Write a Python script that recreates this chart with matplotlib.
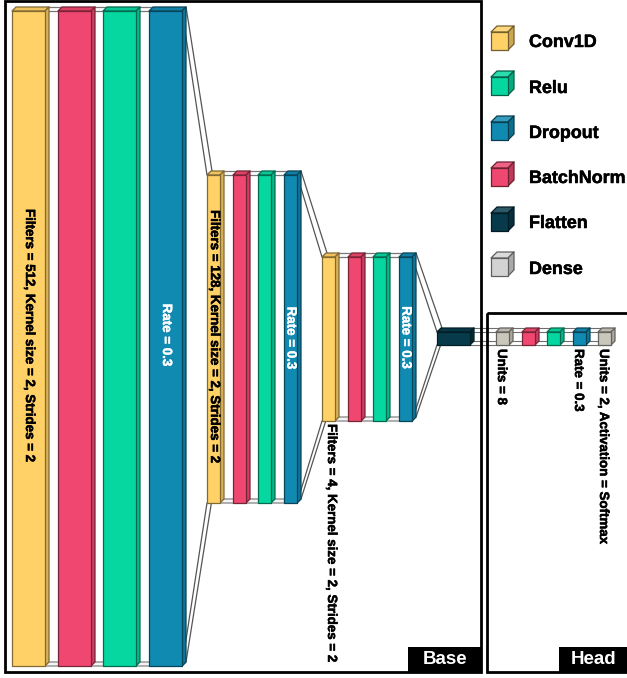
"""Layered view of a 1D conv network: base blocks, head and a layer-type legend."""

import matplotlib

matplotlib.use("Agg")
import matplotlib.patheffects as pe
import matplotlib.pyplot as plt
from matplotlib.colors import to_rgb
from matplotlib.patches import Polygon, Rectangle

plt.rcParams["font.family"] = ["Liberation Sans", "DejaVu Sans"]

# --- Data ---------------------------------------------------------------------
LEGEND_NAMES = ["Conv1D", "Relu", "Dropout", "BatchNorm", "Flatten", "Dense"]
BLOCK_KINDS = ["Conv1D", "BatchNorm", "Relu", "Dropout"]
HEAD_KINDS = ["Dense", "BatchNorm", "Relu", "Dropout", "Dense"]
SECTION_NAMES = ["Base", "Head"]

CONV_LABELS = [
    "Filters = 512, Kernel size = 2, Strides = 2",
    "Filters = 128, Kernel size = 2, Strides = 2",
    "Filters = 4, Kernel size = 2, Strides = 2",
]
DROPOUT_LABEL = "Rate = 0.3"
HEAD_LABELS = ["Units = 8", None, None, "Rate = 0.3", "Units = 2, Activation = Softmax"]

# --- Styles and geometry (pixels) ---------------------------------------------
COLORS = {
    "Conv1D": "#FFD166",
    "Relu": "#06D6A0",
    "Dropout": "#118AB2",
    "BatchNorm": "#EF476F",
    "Flatten": "#073B4C",
    "Dense": "#D3D3D3",
}
HEAD_DENSE_COLOR = "#C9C6BC"
DEPTH = 4

BLOCK_LEFTS = [[12, 58, 103, 149], [207, 233, 258, 284], [322, 348, 373, 399]]
BLOCK_WIDTHS = [33, 13, 13]
BLOCK_TOPS = [11, 175, 257]
BLOCK_BOTTOMS = [666, 503, 421]
CONV_TEXT_POS = [(29, 336, "center"), (214, 337, "center"), (331, 424, "top")]
RATE_TEXT_POS = [(166, 335), (290.5, 338), (405.5, 337.5)]

FLAT_LEFT, FLAT_WIDTH = 437, 33
HEAD_LEFTS = [496, 522, 547, 573, 598]
HEAD_WIDTH = 13
HEAD_TOP, HEAD_BOTTOM = 332, 345

LEGEND_TOPS = [32, 77, 122, 168, 213, 258]
LEGEND_TEXT_Y = [42.5, 88.5, 133.5, 178.5, 223.5, 269.5]

HEAVY = [pe.withStroke(linewidth=0.35, foreground="black")]
HEAVY_WHITE = [pe.withStroke(linewidth=0.3, foreground="white")]


def shade(color, factor):
    """Scale a colour towards black (factor < 1) or white (factor > 1)."""
    rgb = to_rgb(color)
    if factor <= 1:
        return tuple(c * factor for c in rgb)
    return tuple(c + (1 - c) * (factor - 1) for c in rgb)


def cube(ax, x, top, width, bottom, color, depth=DEPTH, top_factor=0.93, side_factor=0.85,
         edge_factor=0.5):
    """Draw one pseudo-3D layer with its front face at x..x+width, top..bottom."""
    edge = shade(color, edge_factor)
    kw = dict(edgecolor=edge, linewidth=0.9, zorder=3, joinstyle="round")
    right = x + width
    ax.add_patch(Polygon([(x, top), (x + depth, top - depth), (right + depth, top - depth), (right, top)],
                         facecolor=shade(color, top_factor), **kw))
    ax.add_patch(Polygon([(right, top), (right + depth, top - depth), (right + depth, bottom - depth), (right, bottom)],
                         facecolor=shade(color, side_factor), **kw))
    ax.add_patch(Rectangle((x, top), width, bottom - top, facecolor=color, **kw))


fig = plt.figure(figsize=(6.27, 6.78), dpi=100)
ax = fig.add_axes([0, 0, 1, 1])
ax.set_xlim(0, 627)
ax.set_ylim(678, 0)
ax.axis("off")

# connectors inside each block
for lefts, w, top, bottom in zip(BLOCK_LEFTS, BLOCK_WIDTHS, BLOCK_TOPS, BLOCK_BOTTOMS):
    x_end = lefts[-1] + w
    ax.add_patch(Rectangle((lefts[0] + w, top - DEPTH), x_end - lefts[0] - w, DEPTH,
                           facecolor="white", edgecolor="#777777", linewidth=0.9, zorder=1))
    ax.add_patch(Rectangle((lefts[0] + w, bottom - DEPTH), x_end - lefts[0] - w, DEPTH,
                           facecolor="#f4f4f4", edgecolor="#999999", linewidth=1.1, zorder=1))

# funnels between blocks, the last one narrowing onto the flatten layer
next_lefts = [BLOCK_LEFTS[1][0], BLOCK_LEFTS[2][0], FLAT_LEFT]
next_tops = BLOCK_TOPS[1:] + [HEAD_TOP]
next_bottoms = BLOCK_BOTTOMS[1:] + [HEAD_BOTTOM]
for i in range(3):
    x0 = BLOCK_LEFTS[i][-1] + BLOCK_WIDTHS[i]
    x1 = next_lefts[i]
    ax.add_patch(Polygon([(x0, BLOCK_TOPS[i]), (x0 + DEPTH, BLOCK_TOPS[i] - DEPTH),
                          (x1 + 5, next_tops[i] - DEPTH), (x1, next_tops[i])],
                         facecolor="white", edgecolor="#555555", linewidth=0.9, zorder=1))
    ax.add_patch(Polygon([(x0, BLOCK_BOTTOMS[i]), (x0 + DEPTH, BLOCK_BOTTOMS[i] - DEPTH),
                          (x1 + 5, next_bottoms[i] - DEPTH), (x1, next_bottoms[i])],
                         facecolor="white", edgecolor="#555555", linewidth=0.9, zorder=1))

# straight run from the flatten layer through the head
x_run = HEAD_LEFTS[-1] + HEAD_WIDTH
for y in (HEAD_TOP - DEPTH, HEAD_BOTTOM - DEPTH):
    ax.add_patch(Rectangle((FLAT_LEFT + FLAT_WIDTH, y), x_run - FLAT_LEFT - FLAT_WIDTH, DEPTH,
                           facecolor="white", edgecolor="#6f6f6f", linewidth=0.8, zorder=1))

# layers
for lefts, w, top, bottom in zip(BLOCK_LEFTS, BLOCK_WIDTHS, BLOCK_TOPS, BLOCK_BOTTOMS):
    for x, kind in zip(lefts, BLOCK_KINDS):
        cube(ax, x, top, w, bottom, COLORS[kind])

cube(ax, FLAT_LEFT, HEAD_TOP, FLAT_WIDTH, HEAD_BOTTOM, COLORS["Flatten"], side_factor=0.7)
for x, kind in zip(HEAD_LEFTS, HEAD_KINDS):
    color = HEAD_DENSE_COLOR if kind == "Dense" else COLORS[kind]
    cube(ax, x, HEAD_TOP, HEAD_WIDTH, HEAD_BOTTOM, color)

# layer annotations
text_kw = dict(rotation=-90, fontsize=9.6, fontweight="bold", ha="center", zorder=5)
for label, (x, y, va) in zip(CONV_LABELS, CONV_TEXT_POS):
    ax.text(x, y, label, va=va, color="black", path_effects=HEAVY, **text_kw)
for x, y in RATE_TEXT_POS:
    ax.text(x, y, DROPOUT_LABEL, va="center", color="white", path_effects=HEAVY_WHITE, **text_kw)
for x, label in zip(HEAD_LEFTS, HEAD_LABELS):
    if label:
        ax.text(x + 5, 349, label, va="top", color="black", path_effects=HEAVY, **text_kw)

# section frames
ax.add_patch(Rectangle((5, 1), 476, 671, fill=False, edgecolor="black", linewidth=2, zorder=6))
ax.add_patch(Rectangle((487, 313), 160, 359, fill=False, edgecolor="black", linewidth=2, zorder=6))
for name, x, w in zip(SECTION_NAMES, (408, 559), (73, 68)):
    ax.add_patch(Rectangle((x, 647), w, 25, facecolor="black", edgecolor="none", zorder=7))
    ax.text(x + w / 2 + 1, 660, name, color="white", fontsize=13.5, fontweight="bold",
            ha="center", va="center", zorder=8)

# legend
for name, top, text_y in zip(LEGEND_NAMES, LEGEND_TOPS, LEGEND_TEXT_Y):
    cube(ax, 491, top, 17, top + 18, COLORS[name], depth=6, top_factor=1.15, side_factor=0.8, edge_factor=0.45)
    ax.text(529, text_y, name, fontsize=12.9, fontweight="bold", ha="left", va="center", path_effects=HEAVY)

fig.savefig("out.png", dpi=100)
